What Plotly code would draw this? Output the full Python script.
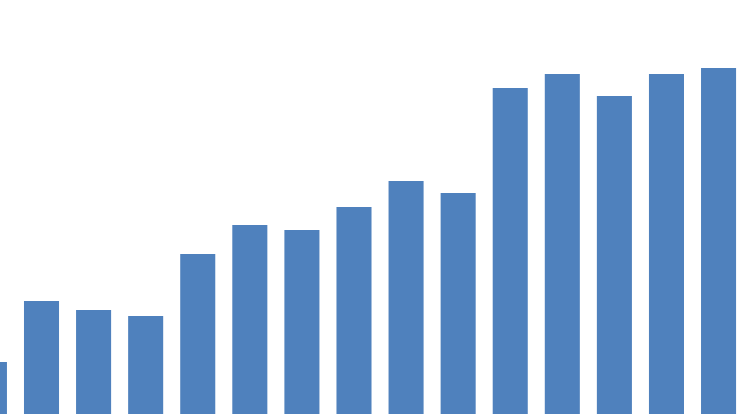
import plotly.graph_objects as go

categories = list(range(15))
values = [52, 113, 104, 98, 160, 189, 184, 207, 233, 221, 326, 340, 318, 340, 346]

BAR_COLOR = "#4F81BD"

fig = go.Figure(
    go.Bar(
        x=categories,
        y=values,
        marker=dict(color=BAR_COLOR, line=dict(width=0)),
        hoverinfo="skip",
    )
)

fig.update_layout(
    width=751,
    height=414,
    margin=dict(l=0, r=0, t=0, b=0),
    paper_bgcolor="white",
    plot_bgcolor="white",
    bargap=0.327,
    showlegend=False,
    xaxis=dict(range=[0.203, 14.623], visible=False, fixedrange=True),
    yaxis=dict(range=[0, 414], visible=False, fixedrange=True),
)

fig.write_html(
    "out.html",
    config={"displayModeBar": False},
    post_script="document.body.style.margin='0';document.body.style.overflow='hidden';",
)
